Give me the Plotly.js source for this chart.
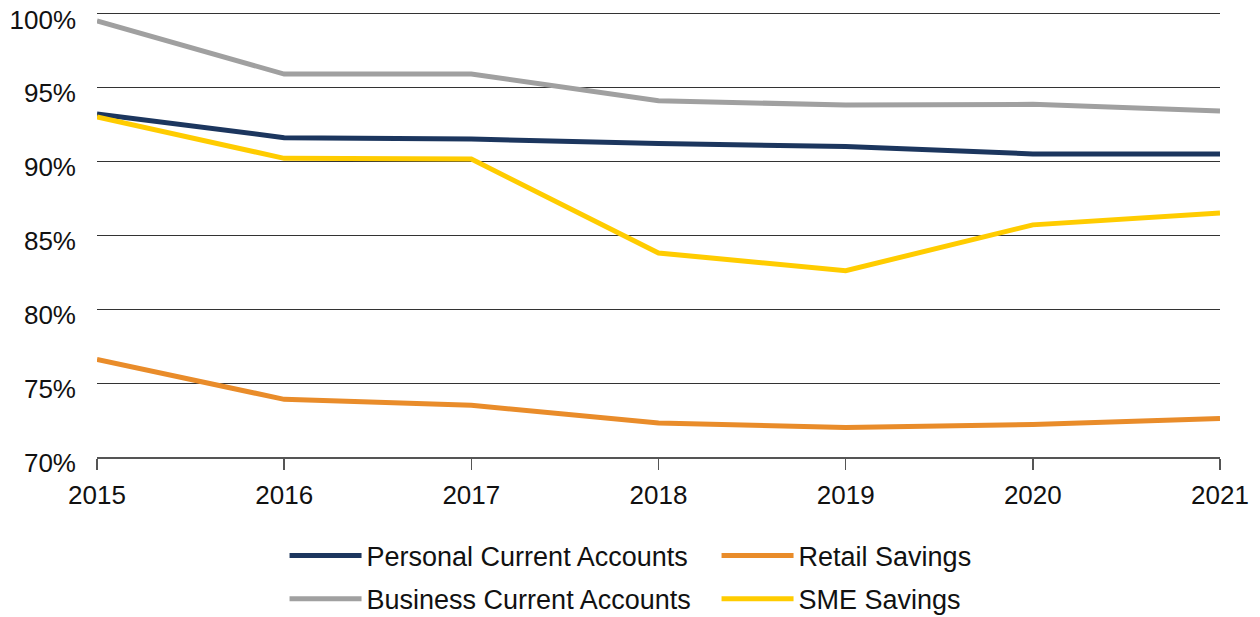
<!DOCTYPE html>
<html>
<head>
<meta charset="utf-8">
<script src="https://cdn.plot.ly/plotly-3.0.1.min.js"></script>
<style>html,body{margin:0;padding:0;background:#fff;}#chart{width:1260px;height:617px;}</style>
</head>
<body>
<div id="chart"></div>
<script>
const years = [2015, 2016, 2017, 2018, 2019, 2020, 2021];
const personalCurrent = [93.2, 91.6, 91.5, 91.2, 91.0, 90.5, 90.5];
const retailSavings = [76.6, 73.9, 73.5, 72.3, 72.0, 72.2, 72.6];
const businessCurrent = [99.5, 95.9, 95.9, 94.1, 93.8, 93.85, 93.4];
const smeSavings = [93.0, 90.2, 90.15, 83.8, 82.6, 85.7, 86.5];
const yTicks = [70, 75, 80, 85, 90, 95, 100];
const yTickText = ["70%", "75%", "80%", "85%", "90%", "95%", "100%"];

const font = "Liberation Sans, Arial, Helvetica, sans-serif";
function tr(name, y, color, legend) {
  return {x: years, y: y, name: name, type: "scatter", mode: "lines",
    line: {color: color, width: 5}, cliponaxis: false, legend: legend};
}
const data = [
  tr("Personal Current Accounts", personalCurrent, "#1c365e", "legend"),
  tr("Retail Savings", retailSavings, "#e98c2a", "legend"),
  tr("Business Current Accounts", businessCurrent, "#a0a0a0", "legend2"),
  tr("SME Savings", smeSavings, "#ffcc00", "legend2")
];
function leg(yc) {
  return {orientation: "h", xref: "paper", yref: "container",
    x: 0.167, xanchor: "left", y: yc, yanchor: "middle",
    entrywidth: 345, entrywidthmode: "pixels", itemwidth: 72,
    font: {family: font, size: 27, color: "#111"}, traceorder: "normal",
    bgcolor: "rgba(0,0,0,0)"};
}
const layout = {
  width: 1260, height: 617,
  margin: {l: 97, r: 40, t: 9, b: 160},
  paper_bgcolor: "#fff", plot_bgcolor: "#fff",
  font: {family: font, size: 24, color: "#111"},
  showlegend: true,
  legend: leg(0.099),
  legend2: leg(0.029),
  xaxis: {range: [2015, 2021], tickvals: years, ticktext: years.map(String),
    showgrid: false, zeroline: false, showline: true, linecolor: "#555", linewidth: 1.5,
    ticks: "outside", ticklen: 11, tickcolor: "#555", tickwidth: 1.5,
    ticklabelstandoff: 3, ticklabeloverflow: "allow",
    tickfont: {family: font, size: 26, color: "#111"}, fixedrange: true},
  yaxis: {range: [70, 100.3], tickvals: yTicks, ticktext: yTickText,
    showgrid: true, gridcolor: "#333", gridwidth: 1, zeroline: false, showline: false,
    ticks: "", ticklabelstandoff: 20, ticklabelshift: 6, ticklabeloverflow: "allow",
    tickfont: {family: font, size: 26, color: "#111"}, fixedrange: true}
};
Plotly.newPlot("chart", data, layout, {displayModeBar: false, staticPlot: true});
</script>
</body>
</html>
